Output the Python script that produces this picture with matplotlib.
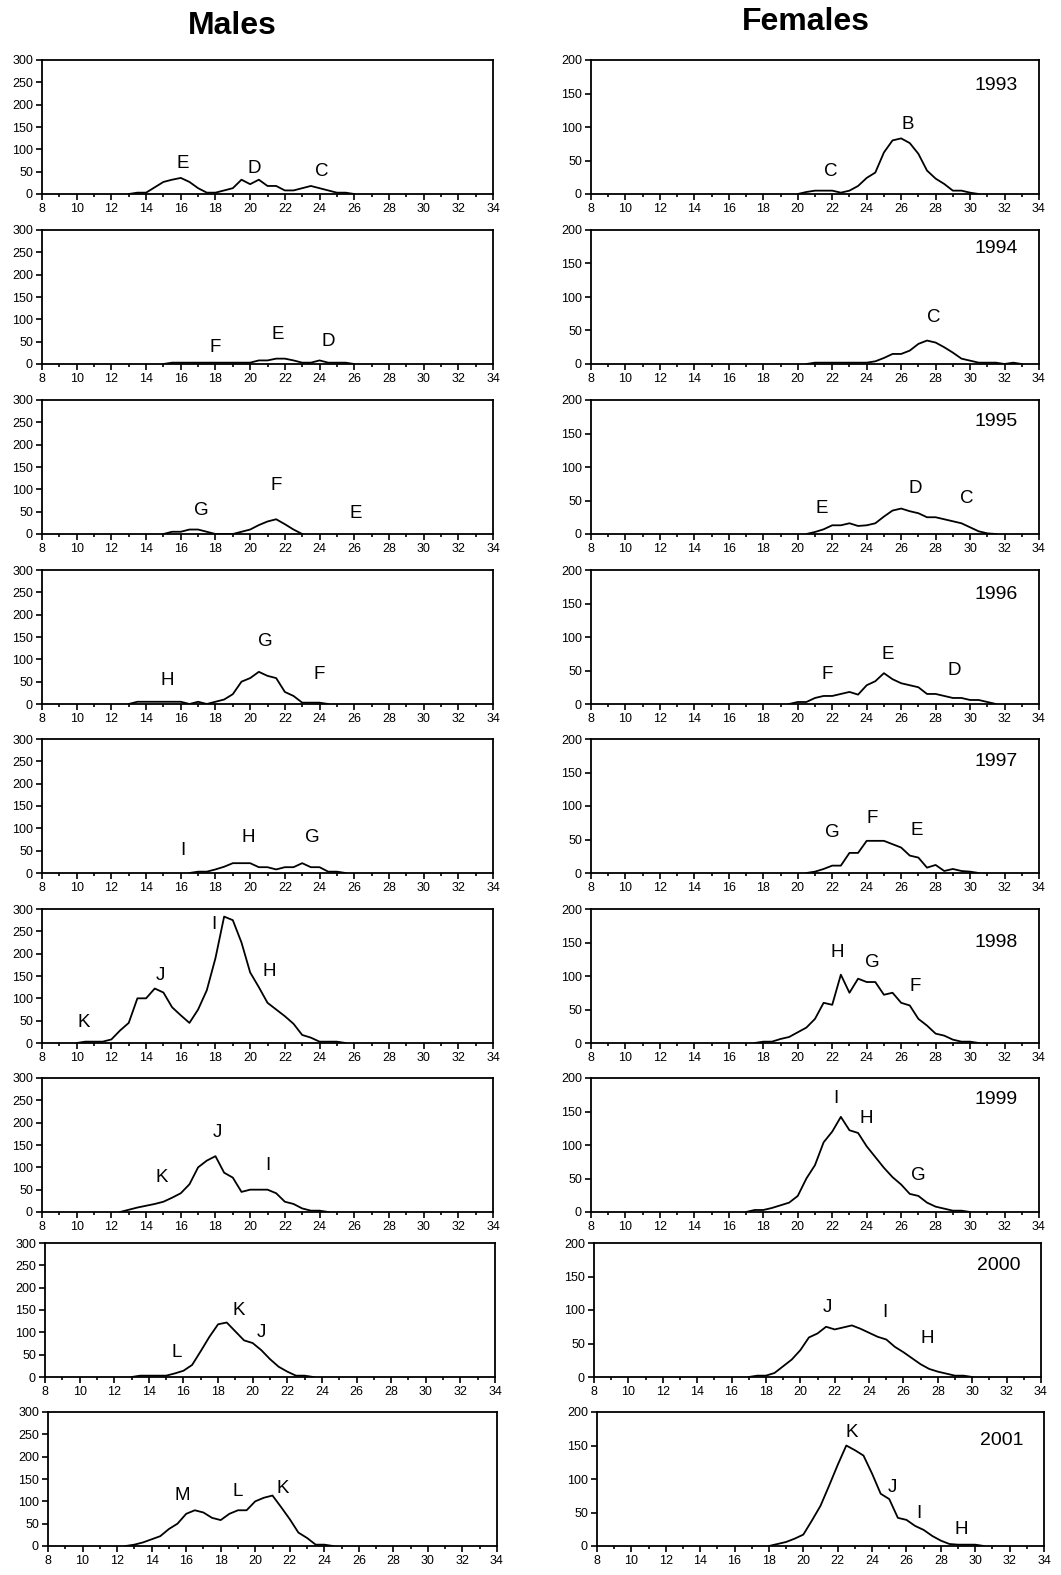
#!/usr/bin/python
# Frecuencias de longitud por anio, machos y hembras
import numpy as np
import matplotlib
matplotlib.use('Agg')
import matplotlib.pyplot as plt
from matplotlib.ticker import MultipleLocator

plt.rcParams['font.family'] = ['Liberation Sans', 'DejaVu Sans']

years = [1993, 1994, 1995, 1996, 1997, 1998, 1999, 2000, 2001]

# machos: primera clase de talla (cm) y frecuencias cada 0.5 cm
m_start = [13, 15, 15, 13, 16.5, 10, 12.5, 13, 12.5]
m1993 = [0, 3, 3, 15, 27, 32, 36, 27, 13, 3, 3, 8, 13, 32, 22, 32, 18, 18, 8, 8, 13, 18, 13, 8, 3, 3, 0]
m1994 = [0, 3, 3, 3, 3, 3, 3, 3, 3, 3, 3, 8, 8, 12, 12, 8, 3, 3, 8, 3, 3, 3, 0]
m1995 = [0, 5, 5, 10, 10, 5, 0, 0, 0, 5, 10, 20, 28, 33, 22, 10, 0]
m1996 = [0, 5, 5, 5, 5, 5, 5, 0, 5, 0, 5, 10, 22, 50, 58, 72, 63, 58, 27, 18, 3, 3, 3, 0]
m1997 = [0, 3, 3, 8, 14, 22, 22, 22, 13, 13, 8, 13, 13, 22, 13, 13, 3, 3, 0]
m1998 = [0, 3, 3, 3, 8, 28, 45, 100, 100, 122, 113, 80, 62, 45, 75, 118, 190, 283, 275,
         225, 158, 125, 90, 75, 60, 43, 18, 12, 3, 3, 3, 0]
m1999 = [0, 5, 10, 14, 18, 23, 32, 42, 62, 100, 115, 125, 88, 77, 45, 50, 50, 50, 42, 23, 18, 8, 3, 3, 0]
m2000 = [0, 3, 3, 3, 3, 8, 14, 27, 58, 90, 118, 122, 102, 82, 76, 60, 40, 23, 12, 3, 3, 0]
m2001 = [0, 3, 8, 15, 22, 38, 50, 72, 80, 75, 63, 58, 72, 80, 80, 100, 108, 113, 87, 60, 30, 18, 3, 3, 0]
males = [m1993, m1994, m1995, m1996, m1997, m1998, m1999, m2000, m2001]

# hembras
f_start = [20, 20.5, 20.5, 19.5, 20.5, 17.5, 17, 17, 18]
f1993 = [0, 3, 5, 5, 5, 2, 5, 12, 24, 32, 62, 80, 83, 76, 60, 35, 23, 15, 5, 5, 2, 0]
f1994 = [0, 2, 2, 2, 2, 2, 2, 2, 4, 9, 15, 15, 20, 30, 35, 32, 25, 17, 8, 5, 2, 2, 2, 0, 2, 0]
f1995 = [0, 3, 7, 13, 13, 16, 12, 13, 16, 26, 35, 38, 34, 31, 25, 25, 22, 19, 16, 10, 4, 1, 0]
f1996 = [0, 3, 3, 9, 12, 12, 15, 18, 14, 28, 34, 46, 37, 31, 28, 25, 15, 15, 12, 9, 9, 6, 6, 3, 0]
f1997 = [0, 2, 6, 11, 11, 30, 30, 48, 48, 48, 43, 38, 26, 23, 8, 12, 3, 6, 3, 2, 0]
f1998 = [0, 2, 2, 6, 9, 16, 23, 36, 60, 57, 102, 75, 96, 91, 91, 72, 75, 60, 56, 36, 26,
         14, 11, 5, 2, 2, 0]
f1999 = [0, 3, 3, 6, 10, 14, 24, 50, 70, 104, 120, 142, 122, 118, 98, 82, 66, 52, 41, 27,
         24, 14, 8, 5, 2, 2, 0]
f2000 = [0, 2, 2, 6, 16, 26, 40, 59, 65, 75, 71, 74, 77, 72, 66, 60, 56, 45, 37, 28, 19,
         12, 8, 5, 2, 2, 0]
f2001 = [0, 3, 6, 11, 17, 38, 60, 90, 121, 150, 143, 135, 108, 78, 70, 42, 39, 30, 24, 15,
         8, 3, 2, 2, 2, 0]
females = [f1993, f1994, f1995, f1996, f1997, f1998, f1999, f2000, f2001]

# letras de cohortes (letra, talla, altura)
m_labels = [
    [('E', 16.1, 69), ('D', 20.25, 56), ('C', 24.1, 51)],
    [('F', 18.0, 36), ('E', 21.6, 65), ('D', 24.5, 51)],
    [('G', 17.2, 52), ('F', 21.5, 109), ('E', 26.1, 45)],
    [('H', 15.2, 52), ('G', 20.9, 139), ('F', 24.0, 66)],
    [('I', 16.1, 50), ('H', 19.9, 79), ('G', 23.6, 79)],
    [('K', 10.4, 47), ('J', 14.8, 151), ('I', 17.9, 265), ('H', 21.1, 160)],
    [('K', 14.9, 78), ('J', 18.1, 177), ('I', 21.0, 105)],
    [('L', 15.6, 54), ('K', 19.2, 148), ('J', 20.5, 99)],
    [('M', 15.8, 114), ('L', 19.0, 123), ('K', 21.6, 128)],
]
f_labels = [
    [('C', 21.9, 33), ('B', 26.4, 103)],
    [('C', 27.9, 69)],
    [('E', 21.4, 38), ('D', 26.8, 68), ('C', 29.8, 53)],
    [('F', 21.7, 44), ('E', 25.2, 74), ('D', 29.1, 50)],
    [('G', 22.0, 61), ('F', 24.3, 82), ('E', 26.9, 64)],
    [('H', 22.3, 135), ('G', 24.3, 120), ('F', 26.8, 84)],
    [('I', 22.2, 169), ('H', 24.0, 139), ('G', 27.0, 55)],
    [('J', 21.6, 103), ('I', 24.9, 97), ('H', 27.4, 58)],
    [('K', 22.8, 170), ('J', 25.2, 87), ('I', 26.7, 49), ('H', 29.2, 25)],
]
year_y = [0.81, 0.86, 0.84, 0.82, 0.83, 0.75, 0.84, 0.835, 0.79]

W, H = 1061.0, 1575.0
fig = plt.figure(figsize=(W / 100, H / 100), dpi=100)

tops = [60, 230, 400, 570, 739, 909, 1078, 1243, 1412]
m_left = [42, 42, 42, 42, 42, 42, 42, 45, 48]
m_right = [493, 493, 493, 493, 493, 493, 493, 495, 497]
f_left = [591, 591, 591, 591, 591, 591, 591, 594, 597]
f_right = [1039, 1039, 1039, 1039, 1039, 1039, 1039, 1041, 1044]
ph = 134


def style(ax, ymax):
    ax.set_xlim(8, 34)
    ax.set_ylim(0, ymax)
    ax.xaxis.set_major_locator(MultipleLocator(2))
    ax.xaxis.set_minor_locator(MultipleLocator(1))
    ax.yaxis.set_major_locator(MultipleLocator(50))
    ax.tick_params(axis='both', which='major', direction='out', length=4, width=1.2,
                   labelsize=9, pad=2.5, colors='black')
    ax.tick_params(axis='x', which='minor', direction='out', length=2.5, width=1.2)
    for s in ax.spines.values():
        s.set_linewidth(1.3)


for i in range(len(years)):
    b = tops[i] + ph
    axm = fig.add_axes([m_left[i] / W, 1 - b / H, (m_right[i] - m_left[i]) / W, ph / H])
    x = np.arange(len(males[i])) * 0.5 + m_start[i]
    axm.plot(x, males[i], color='black', lw=1.3)
    style(axm, 300)
    for lab, lx, ly in m_labels[i]:
        axm.text(lx, ly, lab, fontsize=13.5, ha='center', va='center')

    axf = fig.add_axes([f_left[i] / W, 1 - b / H, (f_right[i] - f_left[i]) / W, ph / H])
    x = np.arange(len(females[i])) * 0.5 + f_start[i]
    axf.plot(x, females[i], color='black', lw=1.3)
    style(axf, 200)
    for lab, lx, ly in f_labels[i]:
        axf.text(lx, ly, lab, fontsize=13.5, ha='center', va='center')
    axf.text(0.905, year_y[i], str(years[i]), transform=axf.transAxes, fontsize=14,
             ha='center', va='center')

fig.text(232 / W, 1 - 26 / H, 'Males', fontsize=23, fontweight='bold', ha='center', va='center')
fig.text(806 / W, 1 - 22 / H, 'Females', fontsize=23, fontweight='bold', ha='center', va='center')

plt.savefig('out.png', dpi=100)
plt.close()
